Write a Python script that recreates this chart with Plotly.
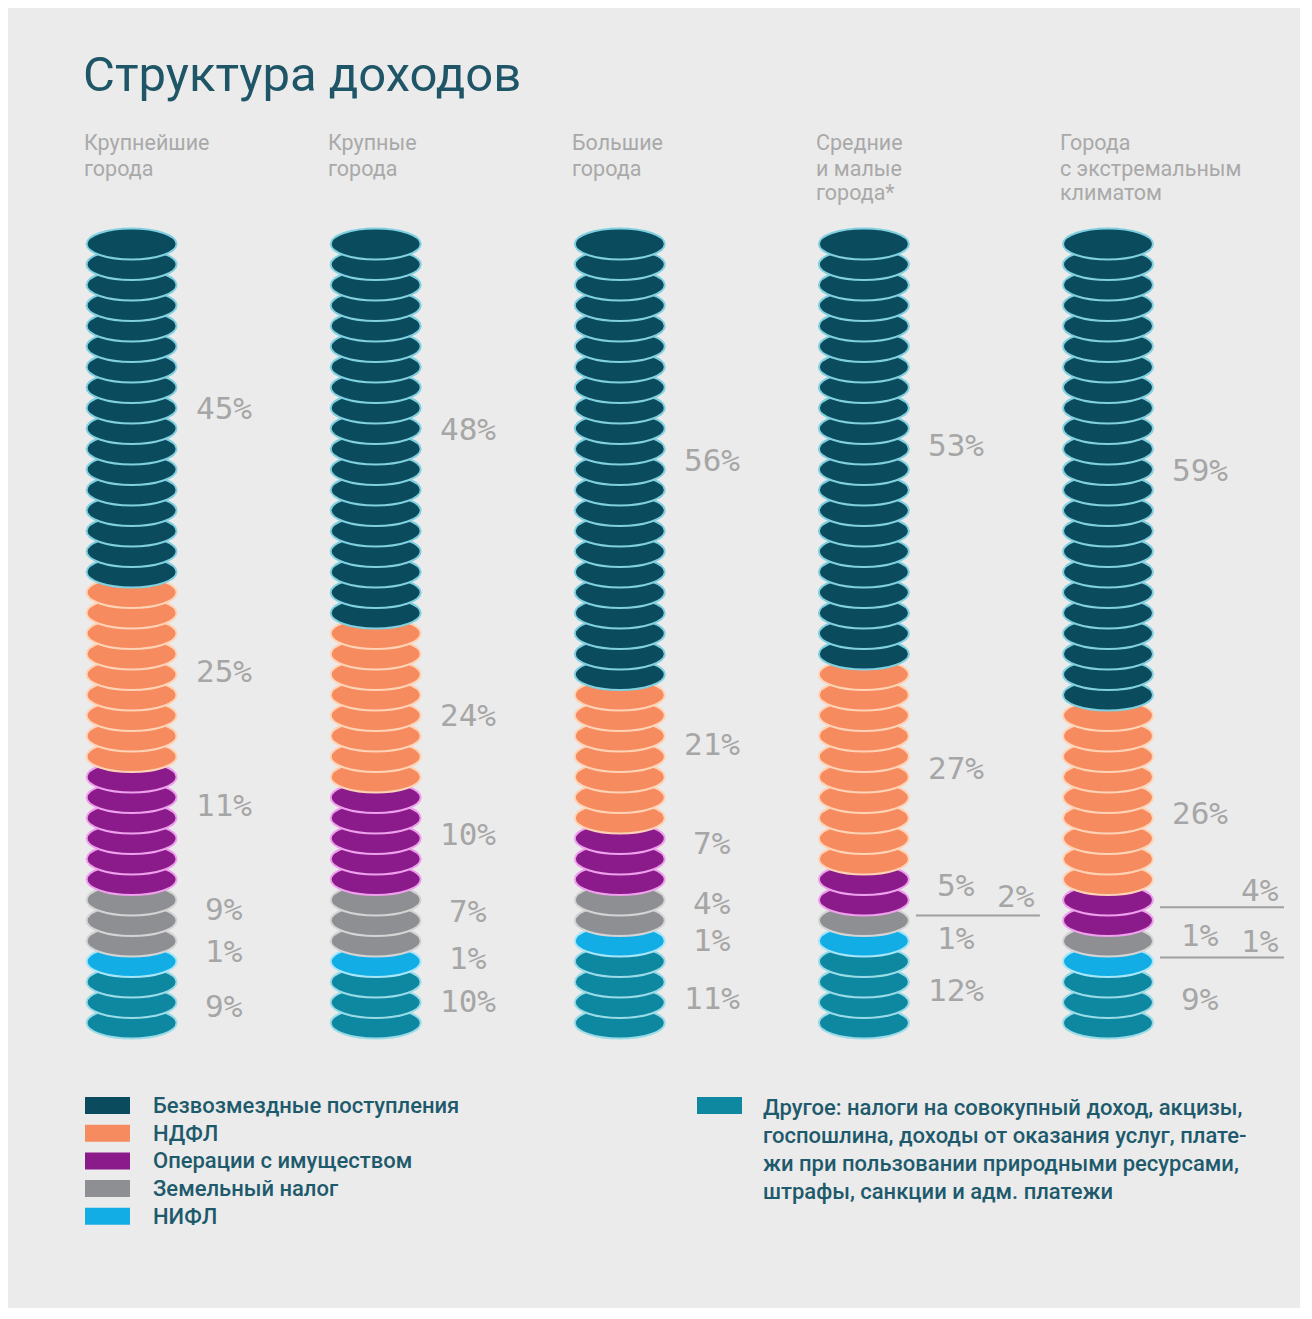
import plotly.graph_objects as go

# ---------------- data ----------------
header_lines = [
    ["Крупнейшие", "города"],
    ["Крупные", "города"],
    ["Большие", "города"],
    ["Средние", "и малые", "города*"],
    ["Города", "с экстремальным", "климатом"],
]
series_names = ["Безвозмездные поступления", "НДФЛ", "Операции с имуществом",
                "Земельный налог", "НИФЛ"]
other_lines = ["Другое: налоги на совокупный доход, акцизы,",
               "госпошлина, доходы от оказания услуг, плате-",
               "жи при пользовании природными ресурсами,",
               "штрафы, санкции и адм. платежи"]

pct_free = [45, 48, 56, 53, 59]
pct_ndfl = [25, 24, 21, 27, 26]
pct_prop = [11, 10, 7, 5, 4]
pct_land = [9, 7, 4, 2, 1]
pct_nifl = [1, 1, 1, 1, 1]
pct_other = [9, 10, 11, 12, 9]

coins_free = [17, 19, 22, 21, 23]
coins_ndfl = [9, 8, 7, 10, 9]
coins_prop = [6, 5, 3, 2, 2]
coins_land = [3, 3, 2, 1, 1]
coins_nifl = [1, 1, 1, 1, 1]
coins_other = [3, 3, 4, 4, 3]

# ---------------- styles / layout ----------------
W, H = 1292, 1300
BODY = 8  # page margin around the figure
BG = "#ebebeb"
PX_X = 244.1          # pixels per column step
PX_Y = 20.5           # pixels per coin step
COL0_X = 131.6 - BODY  # figure px of first column centre
K0_Y = 1023 - BODY     # figure px of the lowest coin centre
COIN_W = 90
COIN_H = 31

fill_colors = {"other": "#0e87a0", "nifl": "#13ade6", "land": "#8e8f93",
               "prop": "#8b1b8a", "ndfl": "#f68b5f", "free": "#0b4b5e"}
line_colors = {"other": "#9adbe8", "nifl": "#a6e6f8", "land": "#d4d4d4",
               "prop": "#eea0ec", "ndfl": "#ffd3b6", "free": "#80d0e0"}
legend_colors = ["#0b4b5e", "#f68b5f", "#8b1b8a", "#8e8f93", "#13ade6"]
other_color = "#0e87a0"

# stacking order bottom -> top
stack = [("other", coins_other, pct_other), ("nifl", coins_nifl, pct_nifl),
         ("land", coins_land, pct_land), ("prop", coins_prop, pct_prop),
         ("ndfl", coins_ndfl, pct_ndfl), ("free", coins_free, pct_free)]

# label nudges in pixels (positive = up)
nudge = {"free": [0, 0, -1, 4, 0], "ndfl": [4, -10, 13, -1, -15],
         "prop": [23, 5, 16, 5, 0], "land": [12, 10, 7, 0, 6],
         "nifl": [11, 4, 1, 3, 0], "other": [-3, 2, -6, 2, 4]}
# labels moved to the right with a leader line: (col, series) -> (line offset px, text offset px)
far = {(3, "land"): (5, 20), (4, "prop"): (3, 17), (4, "nifl"): (4, 17)}

LABEL_DX = 92 / PX_X
FAR_DX = 152 / PX_X
LINE_X0 = (COIN_W / 2 + 7) / PX_X
LINE_X1 = 176 / PX_X

x_range = [-COL0_X / PX_X, (W - COL0_X) / PX_X]
y_max = K0_Y / PX_Y
y_range = [y_max - H / PX_Y, y_max]

fig = go.Figure()
shapes = []
annotations = []

HW = COIN_W / 2 / PX_X
HH = COIN_H / 2 / PX_Y

label_font = dict(family="DejaVu Sans Mono", size=31, color="#a6a6a6")

for col in range(5):
    k = 0
    for key, counts, pcts in stack:
        n = counts[col]
        for i in range(n):
            yc = k + i
            shapes.append(dict(type="circle", xref="x", yref="y",
                               x0=col - HW, x1=col + HW, y0=yc - HH, y1=yc + HH,
                               fillcolor=fill_colors[key],
                               line=dict(color=line_colors[key], width=2),
                               layer="above"))
        center = k + (n - 1) / 2
        if (col, key) in far:
            ldy, tdy = far[(col, key)]
            ly = center + ldy / PX_Y
            shapes.append(dict(type="line", xref="x", yref="y",
                               x0=col + LINE_X0, x1=col + LINE_X1, y0=ly, y1=ly,
                               line=dict(color="#a0a0a0", width=2), layer="above"))
            annotations.append(dict(x=col + FAR_DX, y=ly + tdy / PX_Y, xref="x", yref="y",
                                    text=f"{pcts[col]}%", showarrow=False,
                                    xanchor="center", yanchor="middle", font=label_font))
        else:
            annotations.append(dict(x=col + LABEL_DX, y=center + nudge[key][col] / PX_Y,
                                    xref="x", yref="y", text=f"{pcts[col]}%",
                                    showarrow=False, xanchor="center", yanchor="middle",
                                    font=label_font))
        k += n


def px(x):
    return (x - BODY) / W


def py(y):
    return 1 - (y - BODY) / H


# title
annotations.append(dict(x=px(81), y=py(74), xref="paper", yref="paper",
                        text="Структура доходов", showarrow=False, xanchor="left",
                        yanchor="middle",
                        font=dict(family="Roboto", size=49, color="#1f5667")))

# column headers
for col, lines in enumerate(header_lines):
    for j, line in enumerate(lines):
        annotations.append(dict(x=col - 50 / PX_X, y=py(143 + 25 * j), xref="x", yref="paper",
                                text=line, showarrow=False, xanchor="left", yanchor="middle",
                                font=dict(family="Roboto", size=21.5, color="#a9a9a9")))

# legend (left)
leg_font = dict(family="Roboto", size=22, color="#1e5a6c", weight=500)
for j, (name, color) in enumerate(zip(series_names, legend_colors)):
    yc = 1105.5 + 27.7 * j
    shapes.append(dict(type="rect", xref="paper", yref="paper",
                       x0=px(85), x1=px(130), y0=py(yc + 8.5), y1=py(yc - 8.5),
                       fillcolor=color, line=dict(width=0)))
    annotations.append(dict(x=px(151), y=py(yc), xref="paper", yref="paper", text=name,
                            showarrow=False, xanchor="left", yanchor="middle", font=leg_font))

# legend (right)
shapes.append(dict(type="rect", xref="paper", yref="paper",
                   x0=px(697), x1=px(742), y0=py(1105.5 + 8.5), y1=py(1105.5 - 8.5),
                   fillcolor=other_color, line=dict(width=0)))
for j, line in enumerate(other_lines):
    annotations.append(dict(x=px(761), y=py(1107 + 28 * j), xref="paper", yref="paper",
                            text=line, showarrow=False, xanchor="left", yanchor="middle",
                            font=leg_font))

fig.update_layout(
    width=W, height=H,
    margin=dict(l=0, r=0, t=0, b=0),
    paper_bgcolor=BG, plot_bgcolor=BG,
    xaxis=dict(range=x_range, visible=False, fixedrange=True),
    yaxis=dict(range=y_range, visible=False, fixedrange=True),
    showlegend=False,
    shapes=shapes,
    annotations=annotations,
)

fig.write_html("out.html")
